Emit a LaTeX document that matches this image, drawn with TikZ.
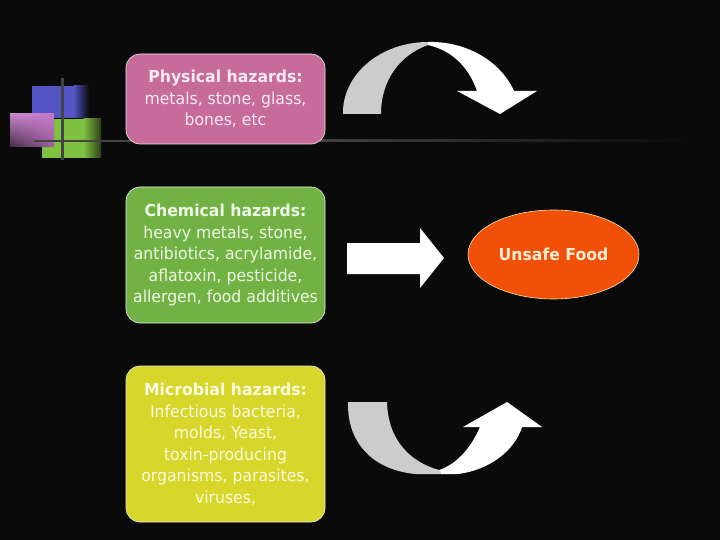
\documentclass[tikz,border=0pt]{standalone}
\usepackage{fontspec}
\setmainfont{DejaVu Sans}[FakeStretch=0.95]
\usetikzlibrary{shapes.geometric,shadings}
\definecolor{bg}{RGB}{10,10,10}
\definecolor{pinkbox}{RGB}{199,107,155}
\definecolor{greenbox}{RGB}{114,178,68}
\definecolor{yellowbox}{RGB}{214,214,43}
\definecolor{orangeell}{RGB}{240,80,8}
\definecolor{arrgray}{RGB}{204,204,204}
\definecolor{sqblue}{RGB}{84,84,196}
\definecolor{sqgreen}{RGB}{128,192,64}
\definecolor{sqpink}{RGB}{196,120,200}
\definecolor{linegray}{RGB}{68,68,68}
\definecolor{boxedge}{RGB}{235,235,235}
\definecolor{elledge}{RGB}{250,230,180}
\definecolor{txtpink}{RGB}{248,234,244}
\definecolor{txtgreen}{RGB}{236,248,228}
\definecolor{txtyellow}{RGB}{250,250,225}
\definecolor{txtorange}{RGB}{255,236,210}
\tikzset{
  hazard/.style={draw=boxedge, line width=0.6pt, rounded corners=14pt,
    minimum width=199pt, align=center, inner sep=0pt,
    font=\fontsize{16.5}{21.5}\selectfont},
  arrw/.style={fill=white, draw=none},
  arrg/.style={fill=arrgray, draw=none},
}
\begin{document}
\begin{tikzpicture}[x=1pt,y=-1pt]
\fill[bg] (0,0) rectangle (720,540);
\useasboundingbox (0,0) rectangle (720,540);
% left decoration
\fill[sqblue] (32,86) rectangle (74,118);
\shade[left color=sqblue, right color=bg] (73.5,86) rectangle (89,118);
\fill[sqgreen] (42,119) rectangle (84,158);
\shade[left color=sqgreen, right color=bg!70!sqgreen] (83.5,119) rectangle (101,158);
\shade[upper right=sqpink, upper left=sqpink!90!white, lower left=sqpink!30!bg, lower right=sqpink!80!bg] (10,114) rectangle (54,147);
\shade[left color=linegray, right color=bg] (300,140) rectangle (690,142);
\fill[linegray] (34,140) rectangle (300.5,142);
\fill[linegray] (61,78) rectangle (63.5,160);
% hazard boxes
\node[hazard, fill=pinkbox, minimum height=90pt, text=txtpink] (phys) at (225.5,99)
  {\textbf{Physical hazards:}\\metals, stone, glass,\\bones, etc};
\node[hazard, fill=greenbox, minimum height=136pt, text=txtgreen] (chem) at (225.5,255)
  {\textbf{Chemical hazards:}\\heavy metals, stone,\\antibiotics, acrylamide,\\aflatoxin, pesticide,\\allergen, food additives};
\node[hazard, fill=yellowbox, minimum height=156pt, text=txtyellow] (micro) at (225.5,444)
  {\textbf{Microbial hazards:}\\Infectious bacteria,\\molds, Yeast,\\toxin-producing\\organisms, parasites,\\viruses,};
% result ellipse
\node[ellipse, fill=orangeell, draw=elledge, line width=0.6pt,
  minimum width=171pt, minimum height=89pt, inner sep=0pt,
  text=txtorange, font=\fontsize{16.5}{18}\selectfont\bfseries] (food) at (553.5,254.5) {Unsafe Food};
% straight arrow
\fill[arrw] (347,243) -- (420,243) -- (420,228) -- (444,258) -- (420,288) -- (420,274) -- (347,274) -- cycle;
% top curved arrow
\fill[arrg] (343,114) .. controls (342,75) and (380,42) .. (428,42)
  -- (428,45) .. controls (400,55) and (381,80) .. (381,114) -- cycle;
\fill[arrw] (428,42) .. controls (465,41) and (500,60) .. (514,91)
  -- (537,91) -- (500,114) -- (457,91) -- (477,91)
  .. controls (468,65) and (450,50) .. (428,45) -- cycle;
% bottom curved arrow
\fill[arrg] (348,402) -- (387,402) .. controls (388,440) and (410,462) .. (439,470)
  -- (441,474) -- (415,474) .. controls (375,470) and (347,445) .. (348,402) -- cycle;
\fill[arrw] (439,470) -- (441,474) -- (458,474) .. controls (490,470) and (515,450) .. (522,427)
  -- (542,427) -- (507,402) -- (463,427) -- (480,427)
  .. controls (470,450) and (455,465) .. (439,470) -- cycle;
\end{tikzpicture}
\end{document}
